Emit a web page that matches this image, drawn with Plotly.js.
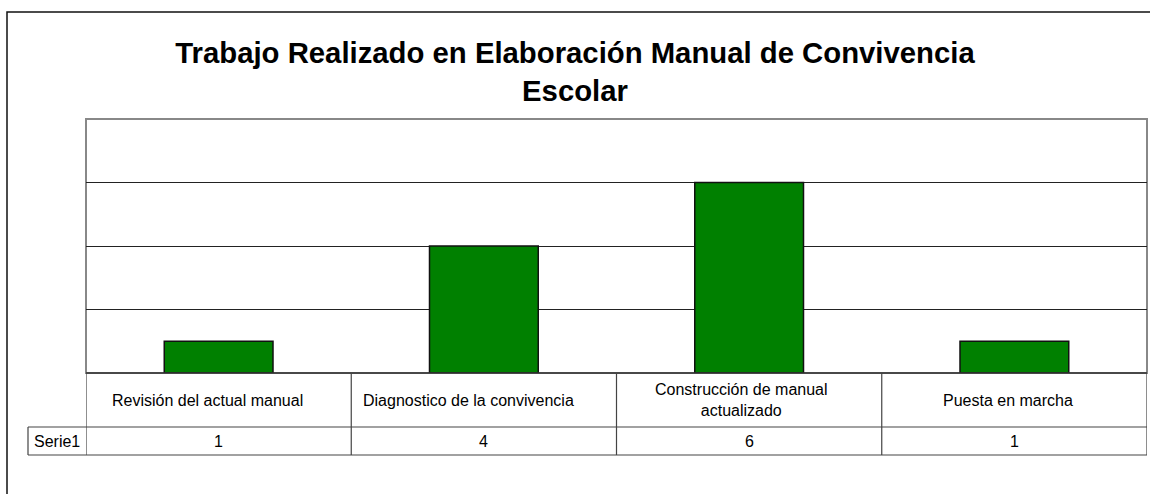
<!DOCTYPE html>
<html>
<head>
<meta charset="utf-8">
<script src="https://cdn.plot.ly/plotly-3.0.1.min.js"></script>
<style>html,body{margin:0;padding:0;background:#fff}#chart{width:1150px;height:494px}</style>
</head>
<body>
<div id="chart"></div>
<script>
// ---- data ----
var categories = ["Revisión del actual manual", "Diagnostico de la convivencia", "Construcción de manual actualizado", "Puesta en marcha"];
var tableLabels = ["Revisión del actual manual", "Diagnostico de la convivencia", "Construcción de manual<br>actualizado", "Puesta en marcha"];
var seriesName = "Serie1";
var values = [1, 4, 6, 1];
var titleText = "Trabajo Realizado en Elaboración Manual de Convivencia<br>Escolar";

// ---- layout geometry (pixels) ----
var W = 1150, H = 494;
var L = 86, R = 1147, T = 119, B = 373;
var pw = R - L, ph = B - T;
function px(x) { return (x - L) / pw; }
function py(y) { return (B - y) / ph; }
var row1Bottom = 427, row2Bottom = 455, serieLeft = 28;
var labelShift = [-11, -15, -8, -6];
var tableLine = {color: "#444", width: 1.2};

var shapes = [];
// outer chart border (left & top)
shapes.push({type: "path", xref: "paper", yref: "paper",
  path: "M " + px(7) + "," + py(H + 5) + " L " + px(7) + "," + py(12) + " L " + px(W + 5) + "," + py(12),
  line: {color: "#111", width: 1.5}});
// plot area border
shapes.push({type: "rect", xref: "paper", yref: "paper", x0: 0, x1: 1, y0: 0, y1: 1,
  line: {color: "#888", width: 2}, layer: "below"});
// axis line
shapes.push({type: "line", xref: "paper", yref: "paper", x0: 0, x1: 1, y0: 0, y1: 0,
  line: {color: "#333", width: 1.5}});
// table horizontal lines
[row1Bottom, row2Bottom].forEach(function (y) {
  shapes.push({type: "line", xref: "paper", yref: "paper", x0: px(serieLeft), x1: 1, y0: py(y), y1: py(y), line: tableLine});
});
// table vertical lines at category boundaries
for (var i = 0; i <= categories.length; i++) {
  shapes.push({type: "line", xref: "x", yref: "paper", x0: i - 0.5, x1: i - 0.5, y0: 0, y1: py(row2Bottom), line: tableLine});
}
// serie label cell left edge
shapes.push({type: "line", xref: "paper", yref: "paper", x0: px(serieLeft), x1: px(serieLeft), y0: py(row1Bottom), y1: py(row2Bottom), line: tableLine});

var annotations = [];
var tfont = {family: "Liberation Sans, Arial, sans-serif", size: 16, color: "#000"};
categories.forEach(function (c, i) {
  annotations.push({xref: "x", yref: "paper", x: c, y: py((B + row1Bottom) / 2), text: tableLabels[i],
    xshift: labelShift[i],
    showarrow: false, xanchor: "center", yanchor: "middle", font: tfont, align: "center"});
  annotations.push({xref: "x", yref: "paper", x: c, y: py((row1Bottom + row2Bottom) / 2), text: String(values[i]),
    showarrow: false, xanchor: "center", yanchor: "middle", font: tfont});
});
annotations.push({xref: "paper", yref: "paper", x: px((serieLeft + L) / 2), y: py((row1Bottom + row2Bottom) / 2),
  text: seriesName, showarrow: false, xanchor: "center", yanchor: "middle", font: tfont});

var trace = {
  type: "bar", x: categories, y: values, name: seriesName,
  marker: {color: "#008000", line: {color: "#111", width: 1.5}},
  hoverinfo: "x+y"
};

var layout = {
  width: W, height: H,
  margin: {l: L, r: W - R, t: T, b: H - B, pad: 0},
  paper_bgcolor: "#fff", plot_bgcolor: "#fff",
  showlegend: false,
  bargap: 0.59,
  title: {text: titleText, x: 0.5, xref: "container", xanchor: "center",
    y: 1 - 63 / H, yref: "container", yanchor: "top",
    font: {family: "Liberation Sans, Arial, sans-serif", size: 29.3, color: "#000", weight: "bold"}},
  xaxis: {type: "category", showticklabels: false, showgrid: false, zeroline: false, showline: false,
    ticks: "", range: [-0.5, categories.length - 0.5], fixedrange: true},
  yaxis: {range: [0, 8], dtick: 2, showticklabels: false, showgrid: true, gridcolor: "#222", gridwidth: 1,
    zeroline: false, showline: false, ticks: "", fixedrange: true},
  shapes: shapes,
  annotations: annotations
};

Plotly.newPlot("chart", [trace], layout, {displayModeBar: false, staticPlot: true});
</script>
</body>
</html>
